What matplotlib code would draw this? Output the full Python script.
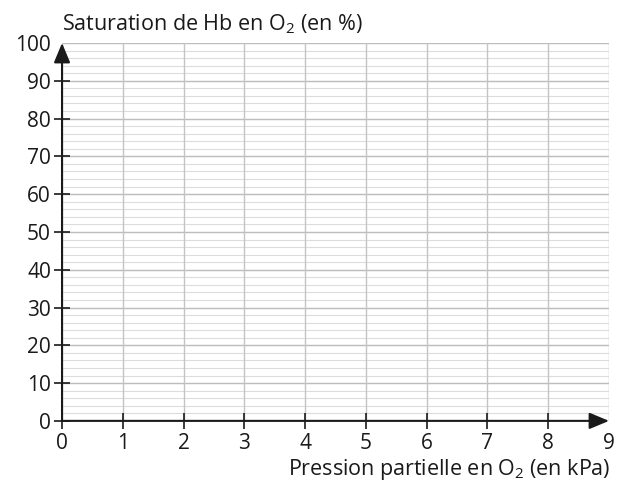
import numpy as np
import matplotlib
matplotlib.use("Agg")
import matplotlib.pyplot as plt

plt.rcParams['font.family'] = ['Open Sans', 'DejaVu Sans']
plt.rcParams['mathtext.fontset'] = 'custom'
plt.rcParams['mathtext.rm'] = 'Open Sans'
plt.rcParams['mathtext.it'] = 'Open Sans'

x_ticks = [0, 1, 2, 3, 4, 5, 6, 7, 8, 9]
y_ticks = [0, 10, 20, 30, 40, 50, 60, 70, 80, 90, 100]
y_minor = [v for v in range(0, 101, 2)]
y_label = "Saturation de Hb en O$_2$ (en %)"
x_label = "Pression partielle en O$_2$ (en kPa)"

fig = plt.figure(figsize=(6.24, 4.86), dpi=100)
ax = fig.add_axes([0.0994, 0.134, 0.8766, 0.7775])
ax.set_xlim(0, 9)
ax.set_ylim(0, 100)

# grid
for v in y_minor:
    ax.axhline(v, color='#dcdcdc', lw=0.8, zorder=0)
for v in y_ticks:
    ax.axhline(v, color='#bdbdbd', lw=1.0, zorder=1)
for v in x_ticks:
    ax.axvline(v, color='#c4c4c4', lw=1.0, zorder=1)

for s in ax.spines.values():
    s.set_visible(False)

# axes with arrows
arrow = dict(arrowstyle='-|>,head_length=0.6,head_width=0.25', color='#1a1a1a',
             lw=1.5, mutation_scale=20, shrinkA=0, shrinkB=0)
ax.annotate('', xy=(9, 0), xytext=(0, 0), arrowprops=arrow,
            annotation_clip=False, zorder=5)
ax.annotate('', xy=(0, 100), xytext=(0, 0), arrowprops=arrow,
            annotation_clip=False, zorder=5)

ax.set_xticks(x_ticks)
ax.set_yticks(y_ticks)
ax.tick_params(axis='both', direction='inout', length=12, width=1.2,
               color='#1a1a1a', labelsize=15, labelcolor='#1a1a1a')
ax.tick_params(axis='x', pad=3)
ax.tick_params(axis='y', pad=2)
for t in ax.yaxis.get_major_ticks()[-1:]:
    t.tick1line.set_visible(False)
for t in ax.xaxis.get_major_ticks()[-1:]:
    t.tick1line.set_visible(False)

fig.text(0.0994, 0.938, y_label, ha='left', va='baseline', fontsize=15.5, color='#1a1a1a')
fig.text(0.978, 0.022, x_label, ha='right', va='baseline', fontsize=15.5, color='#1a1a1a')

fig.savefig('out.png', dpi=100)
